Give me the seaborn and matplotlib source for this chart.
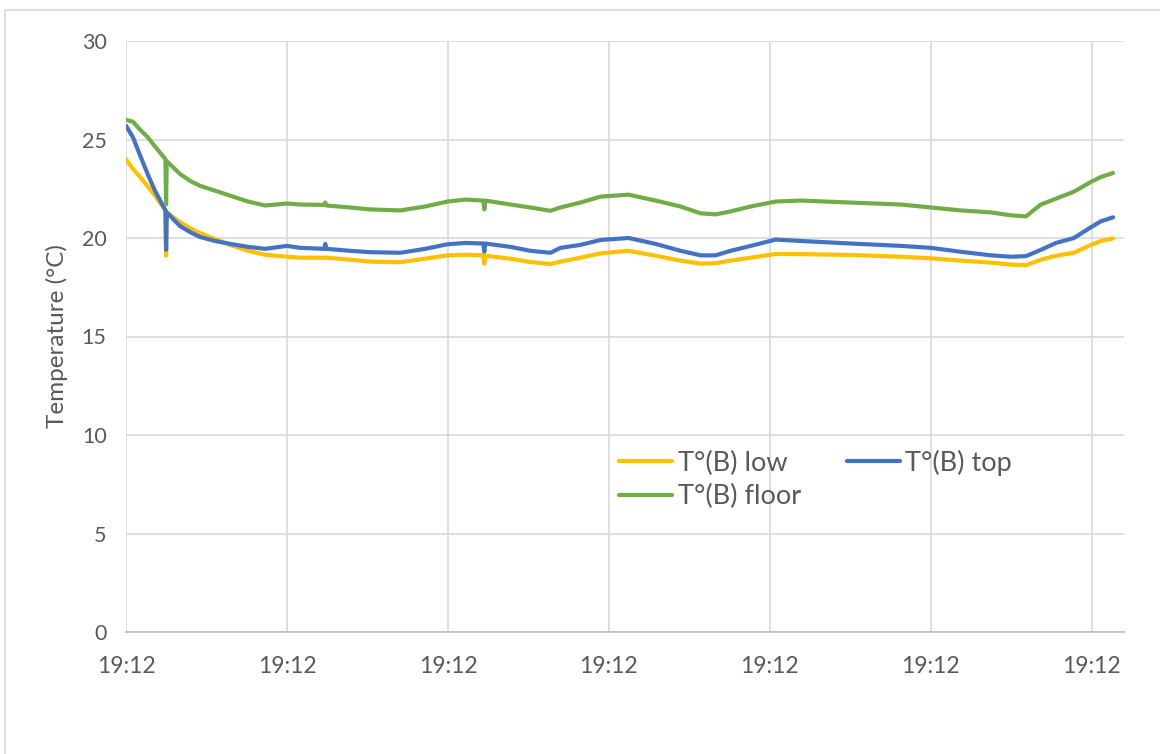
import matplotlib
matplotlib.use("Agg")
import matplotlib.pyplot as plt
from matplotlib.patches import Rectangle
import numpy as np
import pandas as pd
import seaborn as sns

# Sample positions along the time axis (in tick intervals) and the three readings
t = [0.000, 0.044, 0.087, 0.137, 0.180, 0.245, 0.249, 0.253, 0.336, 0.398,
     0.460, 0.553, 0.647, 0.759, 0.864, 1.001, 1.082, 1.232, 1.238, 1.244,
     1.393, 1.517, 1.704, 1.859, 1.996, 2.108, 2.220, 2.226, 2.232, 2.388,
     2.512, 2.637, 2.699, 2.823, 2.948, 3.122, 3.290, 3.445, 3.570, 3.663,
     3.756, 3.881, 4.036, 4.192, 4.502, 4.813, 5.000, 5.187, 5.373, 5.498,
     5.591, 5.684, 5.778, 5.889, 5.995, 6.057, 6.132]

t_low = [24.0, 23.5, 23.1, 22.6, 22.15, 21.4, 19.1, 21.3, 20.8, 20.5,
         20.25, 19.95, 19.65, 19.35, 19.15, 19.05, 19.0, 19.0, 19.02, 19.0,
         18.9, 18.8, 18.77, 18.95, 19.12, 19.15, 19.12, 18.7, 19.1, 18.95,
         18.78, 18.68, 18.8, 19.0, 19.22, 19.35, 19.1, 18.85, 18.7, 18.72,
         18.85, 19.0, 19.19, 19.18, 19.14, 19.05, 18.97, 18.85, 18.75, 18.65,
         18.62, 18.9, 19.1, 19.25, 19.65, 19.85, 19.98]

t_top = [25.7, 25.1, 24.2, 23.2, 22.4, 21.4, 19.4, 21.3, 20.6, 20.3,
         20.05, 19.85, 19.7, 19.55, 19.45, 19.6, 19.5, 19.45, 19.7, 19.45,
         19.35, 19.28, 19.25, 19.45, 19.68, 19.75, 19.72, 19.3, 19.72, 19.55,
         19.35, 19.25, 19.5, 19.65, 19.9, 20.0, 19.7, 19.35, 19.12, 19.12,
         19.35, 19.6, 19.92, 19.85, 19.72, 19.6, 19.5, 19.3, 19.12, 19.05,
         19.08, 19.4, 19.75, 20.0, 20.55, 20.85, 21.05]

t_floor = [26.0, 25.9, 25.5, 25.1, 24.65, 24.0, 21.7, 23.9, 23.25, 22.9,
           22.65, 22.4, 22.15, 21.85, 21.65, 21.75, 21.7, 21.68, 21.8, 21.65,
           21.55, 21.45, 21.4, 21.6, 21.85, 21.95, 21.9, 21.45, 21.9, 21.7,
           21.55, 21.38, 21.55, 21.8, 22.1, 22.2, 21.9, 21.6, 21.25, 21.2,
           21.35, 21.6, 21.85, 21.9, 21.8, 21.7, 21.55, 21.4, 21.3, 21.15,
           21.1, 21.7, 22.0, 22.35, 22.85, 23.1, 23.3]

series_names = ["T°(B) low", "T°(B) top", "T°(B) floor"]
series_colors = ["#FFC000", "#4472C4", "#70AD47"]
tick_labels = ["19:12"] * 7
y_ticks = [0, 5, 10, 15, 20, 25, 30]

df = pd.DataFrame({"t": t, series_names[0]: t_low,
                   series_names[1]: t_top, series_names[2]: t_floor})
long = df.melt(id_vars="t", var_name="series", value_name="temp")

sns.set_style("white")
plt.rcParams["font.family"] = ["Lato", "DejaVu Sans"]

fig = plt.figure(figsize=(11.6, 7.54), dpi=100)
ax = fig.add_axes([126 / 1160, 1 - 632 / 754, (1124 - 126) / 1160, (632 - 41) / 754])

grid_c = "#D9D9D9"
text_c = "#595959"

sns.lineplot(data=long, x="t", y="temp", hue="series", hue_order=series_names,
             palette=series_colors, linewidth=3.0, ax=ax, sort=False,
             estimator=None, legend=True)

ax.set_xlim(0, 6.2)
ax.set_ylim(0, 30)
ax.set_xticks(range(7))
ax.set_xticklabels(tick_labels)
ax.set_yticks(y_ticks)
ax.grid(True, color=grid_c, linewidth=1.2)
ax.set_axisbelow(True)
for side in ["top", "right", "left"]:
    ax.spines[side].set_visible(False)
ax.spines["bottom"].set_color("#BFBFBF")
ax.spines["bottom"].set_linewidth(1.3)
ax.tick_params(axis="both", length=0, labelcolor=text_c)
ax.tick_params(axis="x", pad=17, labelsize=16.5)
ax.tick_params(axis="y", pad=14, labelsize=15.5)
ax.set_xlabel("")
ax.set_ylabel("Temperature (°C)", fontsize=17.5, color=text_c, labelpad=10)

handles, labels = ax.get_legend_handles_labels()
order = [0, 2, 1]
leg = ax.legend([handles[i] for i in order], [labels[i] for i in order],
                ncol=2, frameon=False, loc="upper left",
                bbox_to_anchor=(0.47, 0.35), fontsize=19.5,
                handlelength=1.95, handletextpad=0.2, columnspacing=1.7,
                labelspacing=0.32)
for txt in leg.get_texts():
    txt.set_color(text_c)
for line in leg.get_lines():
    line.set_linewidth(3.0)

fig.patches.append(Rectangle((5 / 1160, -0.1), 1.2, 1 - 10 / 754 + 0.1,
                             transform=fig.transFigure, fill=False,
                             edgecolor=grid_c, linewidth=1.2))

fig.savefig("out.png", dpi=100)
